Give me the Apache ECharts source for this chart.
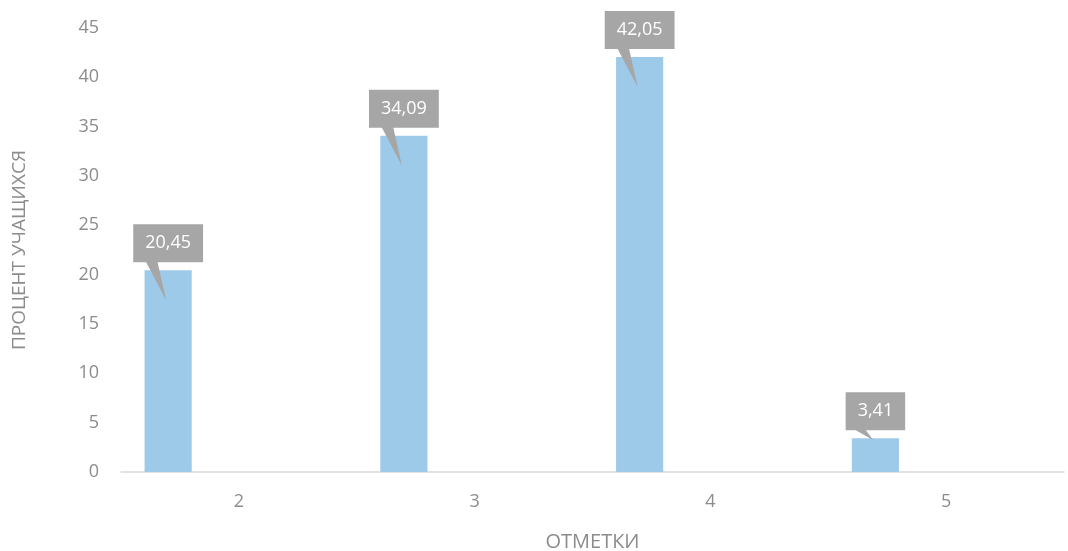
<!DOCTYPE html>
<html><head><meta charset="utf-8">
<script src="https://cdn.jsdelivr.net/npm/echarts@6/dist/echarts.min.js"></script>
<style>html,body{margin:0;padding:0;background:#fff}#c{width:1068px;height:551px}</style>
</head><body><div id="c"></div>
<script>
const categories = ['2', '3', '4', '5'];
const values = [20.45, 34.09, 42.05, 3.41];
const yTicks = [0, 5, 10, 15, 20, 25, 30, 35, 40, 45];
const xName = 'ОТМЕТКИ';
const yName = 'ПРОЦЕНТ УЧАЩИХСЯ';

const chart = echarts.init(document.getElementById('c'));
const fmt = v => v.toFixed(2).replace('.', ',');
const FONT = '"Open Sans", sans-serif';
const GREY = '#8c8c8c';

chart.setOption({
  animation: false,
  grid: { left: 121, right: 4, top: 28, bottom: 79, containLabel: false, outerBoundsMode: 'none' },
  xAxis: {
    type: 'category', data: categories,
    name: xName, nameLocation: 'middle', nameGap: 60,
    nameTextStyle: { color: GREY, fontSize: 20, fontFamily: FONT },
    axisLine: { lineStyle: { color: '#d9d9d9', width: 1.5 } },
    axisTick: { show: false },
    axisLabel: { color: GREY, fontSize: 18, fontFamily: FONT, margin: 21 }
  },
  yAxis: {
    type: 'value', min: yTicks[0], max: yTicks[yTicks.length - 1], interval: 5,
    name: yName, nameLocation: 'middle', nameGap: 92,
    nameTextStyle: { color: GREY, fontSize: 19, fontFamily: FONT },
    axisLine: { show: false }, axisTick: { show: false },
    splitLine: { show: false },
    axisLabel: { color: GREY, fontSize: 18, fontFamily: FONT, margin: 22 }
  },
  series: [
    { type: 'bar', data: values, barWidth: '20%', barGap: '200%',
      itemStyle: { color: '#9ecae9' } },
    { type: 'bar', data: values.map(() => null), barWidth: '20%' },
    {
      type: 'custom', z: 10,
      data: values.map((v, i) => [i, v]),
      encode: { x: 0, y: 1 },
      renderItem: function (params, api) {
        const i = api.value(0), v = api.value(1);
        const top = api.coord([i, v]);
        const base = api.coord([i, 0]);
        const bw = api.size([1, 0])[0];
        const cx = top[0] - bw * 0.3;
        const boxBottom = top[1] - 8;
        const barH = base[1] - top[1];
        const tipY = top[1] + (barH > 60 ? 30 : 2);
        return {
          type: 'group',
          children: [
            { type: 'polygon',
              shape: { points: [[cx - 23, boxBottom - 2], [cx - 11, boxBottom - 2], [cx - 2, tipY]] },
              style: { fill: '#a6a6a6' } },
            { type: 'text',
              style: {
                text: fmt(v), x: cx, y: boxBottom,
                align: 'center', verticalAlign: 'bottom',
                fill: '#ffffff', font: '18px ' + FONT,
                backgroundColor: '#a6a6a6', padding: [8, 12, 8, 12], lineHeight: 22
              } }
          ]
        };
      }
    }
  ]
});
</script></body></html>
